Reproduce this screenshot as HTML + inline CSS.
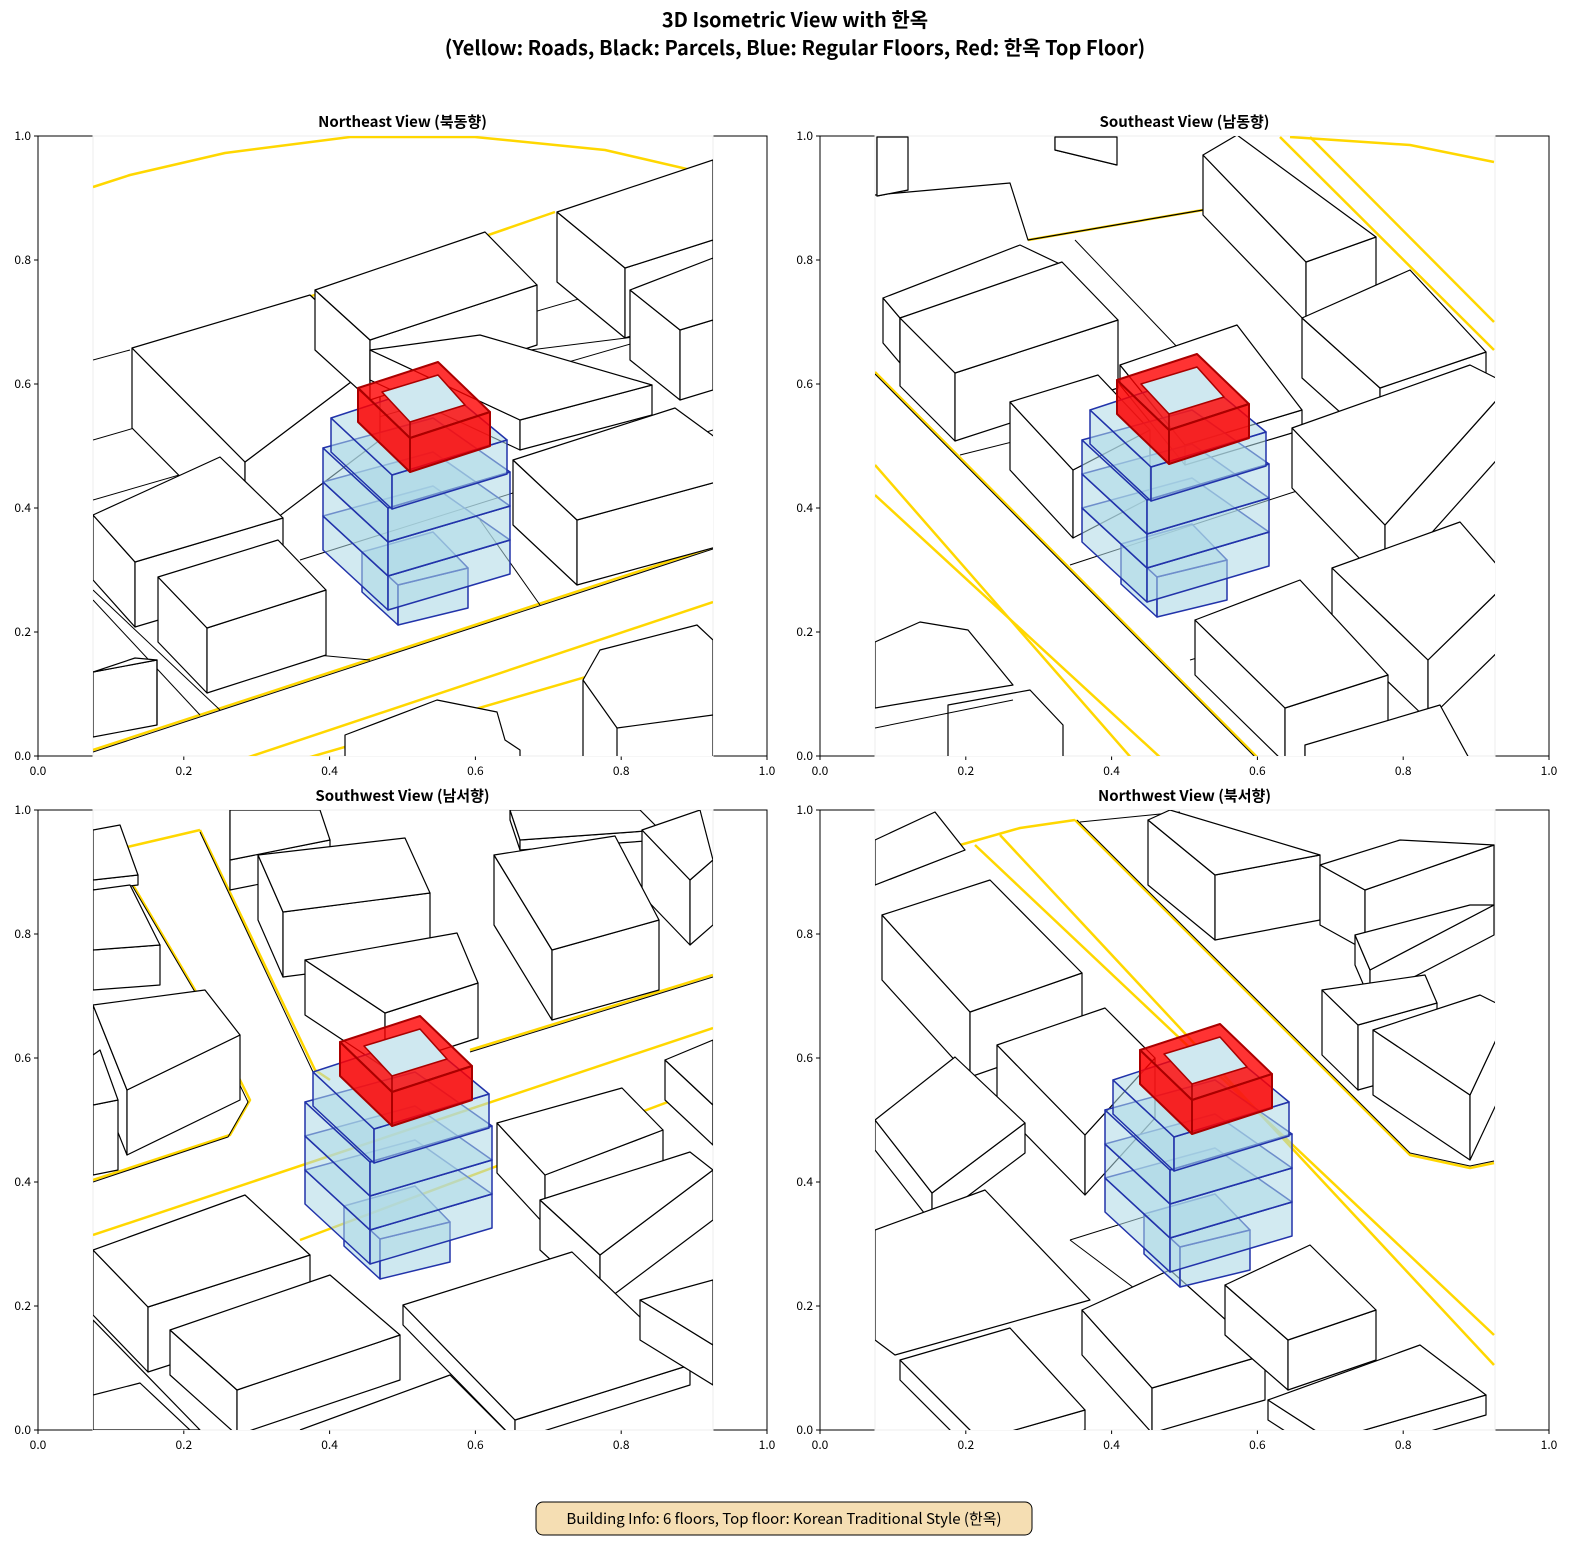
<!DOCTYPE html>
<html><head><meta charset="utf-8"><style>
body{margin:0;background:#fff;width:1590px;height:1560px;overflow:hidden}
svg{display:block}
text{font-family:"Noto Sans CJK KR","Liberation Sans",sans-serif}
</style></head><body>
<svg id="s" width="1590" height="1560" viewBox="0 0 1590 1560" xmlns="http://www.w3.org/2000/svg">
<text x="795" y="27" font-size="20" font-weight="bold" text-anchor="middle">3D Isometric View with 한옥</text>
<text x="795" y="55" font-size="20" font-weight="bold" text-anchor="middle">(Yellow: Roads, Black: Parcels, Blue: Regular Floors, Red: 한옥 Top Floor)</text>
<rect x="536" y="1502" width="496" height="33" rx="7" fill="#f5deb3" stroke="#000" stroke-width="1"/>
<text x="784" y="1524" font-size="15" text-anchor="middle">Building Info: 6 floors, Top floor: Korean Traditional Style (한옥)</text>
<defs>
<clipPath id="c0"><rect x="93" y="136" width="620" height="620"/></clipPath>
<clipPath id="c1"><rect x="875" y="136" width="620" height="620"/></clipPath>
<clipPath id="c2"><rect x="93" y="810" width="620" height="620"/></clipPath>
<clipPath id="c3"><rect x="875" y="810" width="620" height="620"/></clipPath>
</defs>
<g id="g"></g>
</svg>
<script>
const NS="http://www.w3.org/2000/svg";
const root=document.getElementById('g');
function el(tag,attrs,parent,txt){const e=document.createElementNS(NS,tag);for(const k in attrs)e.setAttribute(k,attrs[k]);if(txt!==undefined)e.textContent=txt;(parent||root).appendChild(e);return e;}
const panels=[
 {x:38,y:136,t:"Northeast View (북동향)",c:"c0"},
 {x:820,y:136,t:"Southeast View (남동향)",c:"c1"},
 {x:38,y:810,t:"Southwest View (남서향)",c:"c2"},
 {x:820,y:810,t:"Northwest View (북서향)",c:"c3"}];
const W=729,H=620;
const G=[];
panels.forEach((p,i)=>{
 el('rect',{x:p.x,y:p.y,width:W,height:H,fill:'none',stroke:'#000','stroke-width':1});
 el('text',{x:p.x+W/2,y:p.y-9,'font-size':15,'font-weight':'bold','text-anchor':'middle'},root,p.t);
 for(let k=0;k<=5;k++){
  const v=(k/5).toFixed(1);
  const tx=p.x+W*k/5, ty=p.y+H-H*k/5;
  el('line',{x1:tx,y1:p.y+H,x2:tx,y2:p.y+H+4,stroke:'#000'});
  el('text',{x:tx,y:p.y+H+19,'font-size':12,'text-anchor':'middle'},root,v);
  el('line',{x1:p.x-4,y1:ty,x2:p.x,y2:ty,stroke:'#000'});
  el('text',{x:p.x-7,y:ty+4,'font-size':12,'text-anchor':'end'},root,v);
 }
 const ix=p.x+55;
 el('rect',{x:ix,y:p.y,width:620,height:620,fill:'#fff',stroke:'#eee','stroke-width':1});
 G.push(el('g',{'clip-path':'url(#'+p.c+')'}));
});
function pts(a){return a.map(q=>q.join(',')).join(' ');}
function poly(g,a,fill,stroke,sw,op){el('polygon',{points:pts(a),fill:fill,stroke:stroke,'stroke-width':sw||1.2,'fill-opacity':op===undefined?1:op,'stroke-linejoin':'round'},g);}
function line(g,a,stroke,sw){el('polyline',{points:pts(a),fill:'none',stroke:stroke,'stroke-width':sw||1.2,'stroke-linejoin':'round'},g);}
function box(g,a,b,c,d,h,fill,stroke,sw,op){
 const dn=q=>[q[0],q[1]+h];
 poly(g,[a,d,dn(d),dn(a)],fill,stroke,sw,op);
 poly(g,[d,c,dn(c),dn(d)],fill,stroke,sw,op);
 poly(g,[a,b,c,d],fill,stroke,sw,op);
}
function wbox(g,a,b,c,d,h){box(g,a,b,c,d,h,'#fff','#000',1.2);}
const Y='#ffd700';
function building(g,ox,oy){
 const o=q=>[q[0]+ox,q[1]+oy];
 const B='#add8e6',S='#2233aa';
 box(g,o([362,552]),o([433,532]),o([468,568]),o([398,585]),40,B,S,1.5,0.6);
 const t=[[323,448],[433,418],[510,472],[388,508]];
 for(let f=2;f>=0;f--){
  const dy=f*34;
  box(g,o([t[0][0],t[0][1]+dy]),o([t[1][0],t[1][1]+dy]),o([t[2][0],t[2][1]+dy]),o([t[3][0],t[3][1]+dy]),34,B,S,1.5,0.55);
 }
 box(g,o([331,418]),o([438,383]),o([507,440]),o([392,475]),34,B,S,1.5,0.55);
 const R='#ff0000',RS='#aa0000';
 poly(g,[o([358,388]),o([438,362]),o([490,412]),o([410,438])],R,RS,2,0.8);
 poly(g,[o([382,392]),o([438,375]),o([465,405]),o([410,422])],'#cfe8f0',RS,1.5,1);
 poly(g,[o([358,388]),o([410,438]),o([410,472]),o([358,422])],R,RS,2,0.85);
 poly(g,[o([410,438]),o([490,412]),o([490,446]),o([410,472])],R,RS,2,0.85);
 line(g,[o([410,422]),o([410,438])],RS,1.5);
}
let g=G[0];
line(g,[[93,187],[130,175],[225,153],[350,137],[475,137],[605,150],[713,175]],Y,2.5);
line(g,[[93,750],[713,547]],Y,2.5);line(g,[[93,752],[713,549]],'#000',1);
line(g,[[240,760],[713,602]],Y,2.5);line(g,[[300,760],[713,640]],Y,2.5);
line(g,[[300,300],[555,212]],Y,2.5);
line(g,[[93,590],[220,710]],'#000',1);line(g,[[93,600],[200,715]],'#000',1);
line(g,[[93,440],[713,260]],'#000',1);line(g,[[93,360],[130,350]],'#000',1);
line(g,[[93,500],[713,320]],'#000',1);line(g,[[300,560],[713,430]],'#000',1);
line(g,[[160,640],[370,660]],'#000',1);line(g,[[480,520],[540,605]],'#000',1);
line(g,[[370,360],[480,345],[490,355],[650,335]],'#000',1);
wbox(g,[132,348],[310,295],[380,360],[245,462],80);
wbox(g,[315,290],[485,232],[537,285],[370,340],60);
wbox(g,[557,212],[713,160],[713,240],[625,268],70);
wbox(g,[630,290],[713,258],[713,320],[680,330],70);
wbox(g,[370,350],[480,335],[652,385],[520,420],30);
wbox(g,[513,460],[675,408],[760,470],[577,520],65);
wbox(g,[93,515],[220,457],[283,518],[135,562],65);
wbox(g,[158,577],[278,540],[326,590],[207,628],65);
wbox(g,[93,672],[135,658],[157,660],[157,660],65);
poly(g,[[583,680],[600,650],[697,625],[713,640],[713,760],[583,760]],'#fff','#000',1.2);
line(g,[[583,680],[617,728],[713,715]],'#000',1.2);line(g,[[617,728],[617,760]],'#000',1.2);
poly(g,[[345,735],[437,700],[497,712],[505,740],[520,750],[520,760],[345,760]],'#fff','#000',1.2);
building(g,0,0);
g=G[1];
line(g,[[1290,137],[1410,145],[1494,162]],Y,2.5);
line(g,[[1310,137],[1494,322]],Y,2.5);line(g,[[1280,137],[1494,350]],Y,2.5);
line(g,[[875,465],[1133,760]],Y,2.5);line(g,[[875,495],[1163,760]],Y,2.5);
line(g,[[875,372],[1260,760]],Y,2.5);line(g,[[875,374],[1258,760]],'#000',1);
line(g,[[1028,240],[1203,210]],Y,2.5);
line(g,[[875,195],[1010,183],[1028,240],[1203,210]],'#000',1.2);
line(g,[[960,455],[1100,420]],'#000',1);line(g,[[1070,565],[1300,490]],'#000',1);
line(g,[[1075,240],[1180,350]],'#000',1);line(g,[[1190,660],[1330,620]],'#000',1);
wbox(g,[877,137],[908,137],[908,190],[877,196],0);
wbox(g,[1055,137],[1117,137],[1117,165],[1055,150],0);
wbox(g,[883,298],[1020,245],[1062,265],[900,318],45);
wbox(g,[900,318],[1062,262],[1118,320],[955,373],68);
wbox(g,[1203,155],[1237,135],[1376,237],[1306,262],60);
wbox(g,[1302,318],[1410,270],[1486,352],[1380,388],60);
wbox(g,[1120,365],[1237,325],[1302,410],[1185,445],20);
wbox(g,[1010,402],[1098,375],[1150,430],[1073,470],68);
wbox(g,[1292,428],[1470,365],[1510,385],[1385,525],60);
wbox(g,[1332,568],[1460,522],[1510,580],[1428,660],60);
wbox(g,[1195,620],[1300,580],[1388,675],[1285,708],55);
wbox(g,[1305,745],[1440,705],[1470,760],[1305,760],20);
poly(g,[[875,642],[920,622],[968,630],[1013,685],[875,708]],'#fff','#000',1.2);
poly(g,[[948,705],[1030,690],[1063,725],[1063,760],[948,760]],'#fff','#000',1.2);
line(g,[[875,728],[1013,700]],'#000',1);
building(g,759,-8);
g=G[2];
line(g,[[93,855],[200,830]],Y,2.5);
line(g,[[130,880],[195,990],[250,1100],[230,1135],[93,1180]],Y,2.5);
line(g,[[130,882],[195,992],[248,1102],[228,1137],[93,1182]],'#000',1);
line(g,[[200,830],[315,1070],[330,1080]],Y,2.5);line(g,[[200,832],[313,1072]],'#000',1);
line(g,[[93,1235],[713,1028]],Y,2.5);line(g,[[300,1240],[713,1085]],Y,2.5);
line(g,[[470,1050],[713,975]],Y,2.5);line(g,[[470,1052],[713,977]],'#000',1);
wbox(g,[93,830],[120,825],[138,875],[93,880],10);
wbox(g,[93,890],[130,885],[160,945],[93,950],40);
wbox(g,[230,810],[320,810],[330,840],[230,860],30);
wbox(g,[510,810],[640,810],[660,830],[520,840],10);
wbox(g,[642,830],[700,810],[713,860],[690,880],65);
wbox(g,[258,855],[405,838],[430,893],[283,912],65);
wbox(g,[494,855],[615,836],[659,920],[552,950],70);
wbox(g,[305,960],[457,933],[478,983],[385,1013],55);
wbox(g,[93,1005],[205,990],[240,1035],[127,1090],65);
wbox(g,[93,1055],[100,1050],[118,1100],[93,1105],70);
wbox(g,[497,1123],[622,1088],[663,1130],[545,1175],50);
wbox(g,[540,1200],[690,1152],[713,1170],[600,1255],50);
wbox(g,[665,1060],[713,1040],[713,1100],[713,1105],40);
wbox(g,[93,1250],[245,1195],[310,1255],[148,1307],65);
wbox(g,[170,1330],[330,1275],[400,1335],[237,1390],45);
wbox(g,[403,1305],[572,1252],[690,1365],[515,1420],20);
wbox(g,[640,1300],[713,1280],[713,1340],[713,1345],40);
poly(g,[[93,1320],[93,1430],[200,1430]],'#fff','#000',1.2);
line(g,[[93,1395],[140,1383],[190,1430]],'#000',1.2);
line(g,[[300,1430],[450,1375],[505,1430]],'#000',1.2);
building(g,-18,654);
g=G[3];
line(g,[[960,845],[1020,828],[1075,820]],Y,2.5);
line(g,[[975,845],[1494,1335]],Y,2.5);line(g,[[1000,835],[1494,1365]],Y,2.5);
line(g,[[1075,820],[1410,1155],[1470,1168],[1494,1163]],Y,2.5);
line(g,[[1077,820],[1410,1153],[1470,1166],[1494,1161]],'#000',1);
line(g,[[1080,822],[1180,812]],'#000',1);
line(g,[[1070,1240],[1150,1300]],'#000',1);line(g,[[1070,1240],[1150,1215]],'#000',1);
wbox(g,[875,840],[935,812],[965,850],[875,885],0);
wbox(g,[1148,820],[1170,810],[1320,855],[1215,875],65);
wbox(g,[1320,865],[1400,840],[1494,845],[1365,890],60);
wbox(g,[1355,935],[1470,905],[1494,905],[1370,970],30);
wbox(g,[1322,990],[1425,975],[1437,1003],[1358,1025],65);
wbox(g,[1373,1030],[1480,995],[1510,1010],[1470,1095],65);
wbox(g,[882,915],[990,880],[1082,973],[970,1012],65);
wbox(g,[997,1045],[1105,1008],[1155,1058],[1085,1135],60);
wbox(g,[875,1120],[955,1057],[1025,1123],[932,1193],30);
poly(g,[[875,1230],[985,1190],[1090,1300],[895,1355],[875,1340]],'#fff','#000',1.2);
wbox(g,[900,1360],[1010,1328],[1085,1410],[980,1440],20);
wbox(g,[1082,1310],[1170,1270],[1265,1355],[1152,1388],45);
wbox(g,[1225,1285],[1310,1245],[1376,1310],[1288,1340],50);
wbox(g,[1268,1400],[1420,1345],[1486,1395],[1330,1440],20);
building(g,782,662);
</script>
</body></html>
